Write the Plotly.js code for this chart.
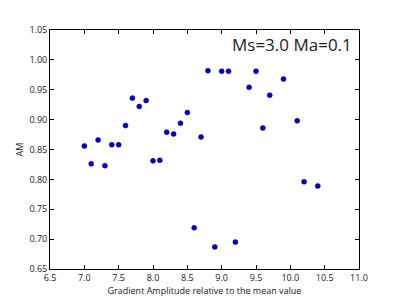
<!DOCTYPE html>
<html><head><meta charset="utf-8">
<script src="https://cdn.plot.ly/plotly-3.0.1.min.js"></script>
<style>html,body{margin:0;padding:0;background:#fff;}</style>
</head><body><div id="chart" style="width:399px;height:299px;"></div>
<script>
const gradientAmplitude = [7.0,7.1,7.2,7.3,7.4,7.5,7.6,7.7,7.8,7.9,8.0,8.1,8.2,8.3,8.4,8.5,8.6,8.7,8.8,8.9,9.0,9.1,9.2,9.4,9.5,9.6,9.7,9.9,10.1,10.2,10.4];
const amValues = [0.856,0.826,0.866,0.823,0.858,0.858,0.890,0.936,0.922,0.932,0.831,0.832,0.879,0.876,0.894,0.912,0.719,0.871,0.982,0.687,0.981,0.981,0.695,0.954,0.981,0.886,0.941,0.968,0.898,0.796,0.789];
const xTicks = [6.5,7.0,7.5,8.0,8.5,9.0,9.5,10.0,10.5,11.0];
const yTicks = [0.65,0.70,0.75,0.80,0.85,0.90,0.95,1.00,1.05];
const font = "Open Sans, DejaVu Sans, sans-serif";
const axisCommon = {
  showgrid:false, zeroline:false, showline:true, linecolor:'#000', linewidth:1, mirror:'ticks',
  ticks:'inside', ticklen:4, tickcolor:'#000', tickwidth:1,
  tickfont:{family:font,size:9,color:'#222'}
};
Plotly.newPlot('chart',[{
  x: gradientAmplitude, y: amValues, type:'scatter', mode:'markers',
  marker:{color:'#0000cc', size:5, line:{color:'#000033', width:0.5}}
}],{
  width:399, height:299,
  margin:{l:50,r:40,t:30,b:30},
  paper_bgcolor:'#fff', plot_bgcolor:'#fff',
  showlegend:false,
  xaxis:Object.assign({}, axisCommon, {
    range:[6.5,11.0], tickvals:xTicks, ticktext:xTicks.map(v=>v.toFixed(1)),
    title:{text:'Gradient Amplitude relative to the mean value', font:{family:font,size:9,color:'#222'}, standoff:2}
  }),
  yaxis:Object.assign({}, axisCommon, {
    range:[0.65,1.05], tickvals:yTicks, ticktext:yTicks.map(v=>v.toFixed(2)),
    title:{text:'AM', font:{family:font,size:9,color:'#222'}, standoff:4}
  }),
  annotations:[{
    text:'Ms=3.0 Ma=0.1', xref:'paper', yref:'paper', x:0.985, y:0.995,
    xanchor:'right', yanchor:'top', showarrow:false,
    font:{family:font,size:17,color:'#222'}
  }]
},{displayModeBar:false, staticPlot:true});
</script></body></html>
